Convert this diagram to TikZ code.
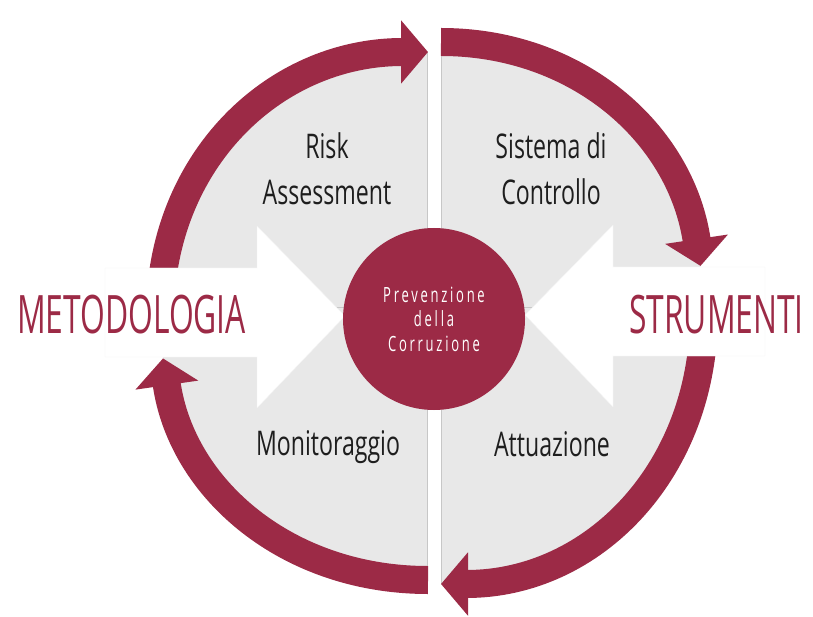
\documentclass[tikz,border=0pt]{standalone}
\usepackage{fontspec}
\setmainfont{Open Sans}
\usetikzlibrary{arrows.meta}
\newfontfamily\headfont[FakeStretch=0.6]{Open Sans}
\newfontfamily\quadfont[FakeStretch=0.68]{Open Sans}
\newfontfamily\corefont[FakeStretch=0.62,LetterSpace=13]{Open Sans}
\definecolor{ACrimson}{HTML}{9C2A46}
\definecolor{APanel}{HTML}{E8E8E8}
\definecolor{AInk}{HTML}{1E1E1E}
\tikzset{
    panel/.style = {fill=APanel},
    seam/.style = {draw=black!22, line width=1pt},
    band/.style = {draw=ACrimson, line width=28pt, -{Triangle[length=27pt,width=62pt]}},
    plate/.style = {fill=white, draw=black!5},
    core/.style = {circle, fill=ACrimson, minimum size=182pt, inner sep=0pt,
        text=white, align=center, font=\corefont\fontsize{21}{24.5}\selectfont},
    quad/.style = {text=AInk, align=center, font=\quadfont\fontsize{34}{46}\selectfont},
    headline/.style = {text=ACrimson, anchor=base, font=\headfont\fontsize{53}{60}\selectfont}
}
\def\bigarrow{%
    -- +(152,0) -- +(152,-42) -- +(240,48) -- +(152,140) -- +(152,89) -- +(0,89) -- cycle
}

\begin{document}
\begin{tikzpicture}[x=1pt, y=-1pt]
    \useasboundingbox (0,0) rectangle (813,617);
    \coordinate (ltop) at (428,52);
    \coordinate (lleft) at (160,316);
    \coordinate (lbot) at (428,580);
    \coordinate (lend) at (163,358.4);
    \coordinate (rtop) at (441,42);
    \coordinate (rright) at (704,313);
    \coordinate (rbot) at (441,584);
    \coordinate (rend) at (700.5,265.9);
    % grey halves
    \fill[panel] (427,52) .. controls (272.6,52) and (160,162.9) .. (lleft)
        .. controls (160,469.1) and (272.6,580) .. (427,580) -- cycle;
    \fill[panel] (rtop) .. controls (593.5,42) and (704,155.8) .. (rright)
        .. controls (704,470.2) and (593.5,584) .. (rbot) -- cycle;
    \draw[seam] (427,52) -- (427,580);
    \draw[seam] (rtop) -- (rbot);
    \draw[seam] (160,308) -- (427,308);
    \draw[seam] (441,308) -- (704,308);
    % cycle arrows
    \draw[band] (lleft) .. controls (160,162.9) and (272.6,52) .. (ltop);
    \draw[band] (lbot) .. controls (287.4,580) and (181.8,489.1) .. (lend);
    \draw[band] (rtop) .. controls (577.8,42) and (680.8,133.6) .. (rend);
    \draw[band] (rright) .. controls (704,470.2) and (593.5,584) .. (rbot);
    % white block arrows
    \fill[plate] (105,268) \bigarrow;
    \fill[plate, xscale=-1] (-765,267) \bigarrow;
    \node[core] (core) at (434,319) {Prevenzione\\della\\Corruzione};
    \node[quad] (risk) at (327,169) {Risk\\Assessment};
    \node[quad] (sist) at (551,169) {Sistema di\\Controllo};
    \node[quad, anchor=base] (moni) at (328,455) {Monitoraggio};
    \node[quad, anchor=base] (attu) at (552,456) {Attuazione};
    \node[headline] (metod) at (131.5,333) {METODOLOGIA};
    \node[headline] (strum) at (716.5,334) {STRUMENTI};
\end{tikzpicture}
\end{document}
